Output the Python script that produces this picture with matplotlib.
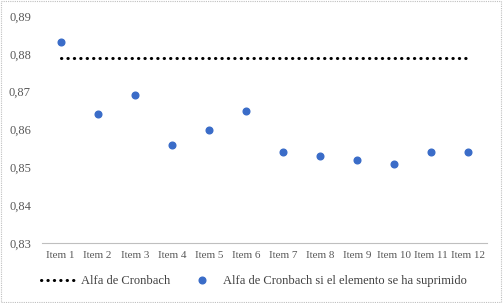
import matplotlib.pyplot as plt
from matplotlib.patches import Rectangle

items = ["Item 1", "Item 2", "Item 3", "Item 4", "Item 5", "Item 6",
         "Item 7", "Item 8", "Item 9", "Item 10", "Item 11", "Item 12"]
alfa_suprimido = [0.883, 0.864, 0.869, 0.856, 0.860, 0.865,
                  0.854, 0.853, 0.852, 0.851, 0.854, 0.854]
alfa_total = 0.879
y_ticks = [0.83, 0.84, 0.85, 0.86, 0.87, 0.88, 0.89]

plt.rcParams['font.family'] = ['Liberation Serif', 'DejaVu Serif']

fig = plt.figure(figsize=(5.03, 3.03), dpi=100)
ax = fig.add_axes([42 / 503, 1 - 243 / 303, 445 / 503, 227 / 303])

x = list(range(len(items)))
ax.plot(x, [alfa_total] * len(items), color='black', lw=2.2,
        linestyle=(0, (0.1, 2.0)), dash_capstyle='round',
        label="Alfa de Cronbach")
ax.plot(x, alfa_suprimido, linestyle='none', marker='o', ms=4.8,
        color='#3a6cc8', mec='#3a6cc8',
        label="Alfa de Cronbach si el elemento se ha suprimido")

ax.set_xlim(-0.5, len(items) - 0.5)
ax.set_ylim(0.83, 0.89)
ax.set_xticks(x)
ax.set_xticklabels(items)
ax.set_yticks(y_ticks)
ax.set_yticklabels([f"{v:.2f}".replace('.', ',') for v in y_ticks])
ax.tick_params(axis='both', length=0, colors='#595959')
ax.tick_params(axis='x', labelsize=8, pad=6)
ax.tick_params(axis='y', labelsize=9, pad=8)
for s in ['left', 'right', 'top']:
    ax.spines[s].set_visible(False)
ax.spines['bottom'].set_color('#bfbfbf')
ax.spines['bottom'].set_linestyle((0, (1, 1)))
ax.spines['bottom'].set_linewidth(0.8)

leg = fig.legend(loc='lower left', bbox_to_anchor=(30 / 503, 0.015), ncol=2,
                 frameon=False, fontsize=9, handlelength=3.0,
                 columnspacing=1.1, handletextpad=0.15)
for t in leg.get_texts():
    t.set_color('#404040')

fig.patches.append(Rectangle((0.002, 0.003), 0.994, 0.994, transform=fig.transFigure,
                             fill=False, edgecolor='#bfbfbf', lw=0.8,
                             linestyle=(0, (1, 1))))

fig.savefig("out.png", dpi=100)
